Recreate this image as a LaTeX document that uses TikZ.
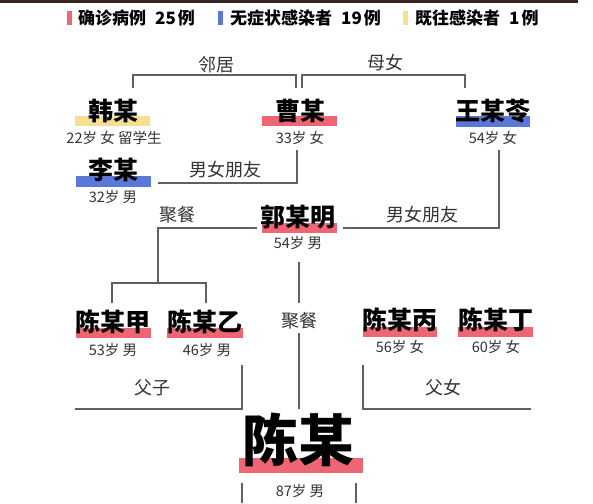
\documentclass[tikz,border=0pt]{standalone}
\usepackage{fontspec}
\setmainfont{Noto Sans CJK SC}
\definecolor{cred}{HTML}{EE6673}
\definecolor{cblue}{HTML}{5A78D8}
\definecolor{cyel}{HTML}{F6DE92}
\definecolor{lin}{HTML}{606060}
\definecolor{band}{HTML}{3B2424}
\begin{document}
\begin{tikzpicture}[x=1pt,y=-1pt,
  pname/.style={font=\fontsize{25}{25}\selectfont\bfseries, inner sep=0},
  bigname/.style={font=\fontsize{56}{56}\selectfont\bfseries, inner sep=0},
  sub/.style={font=\fontsize{14.5}{14.5}\selectfont, text=black!80, inner sep=0},
  rel/.style={font=\fontsize{18}{18}\selectfont, text=black!80, inner sep=0},
  leg/.style={font=\fontsize{17}{17}\selectfont\bfseries, anchor=west, inner sep=0},
  conn/.style={draw=lin, line width=1.2pt}]
\useasboundingbox[fill=white] (0,0) rectangle (593,503);
\fill[band] (0,0) rectangle (578,3);
% legend
\fill[cred] (67,11) rectangle (72,25);
\node[leg] (l1) at (78,18) {确诊病例\hspace{9pt}25\hspace{2pt}例};
\fill[cblue] (218,11) rectangle (223,25);
\node[leg] (l2) at (230,18) {无症状感染者\hspace{9pt}19\hspace{2pt}例};
\fill[cyel] (403,11) rectangle (408,25);
\node[leg] (l3) at (415,18) {既往感染者\hspace{9pt}1\hspace{2pt}例};
% bars
\fill[cyel] (75,116) rectangle (150,126);
\fill[cred] (262,116) rectangle (337,126);
\fill[cblue] (456,116) rectangle (530,127);
\fill[cblue] (76,176) rectangle (151,187);
\fill[cred] (262,223) rectangle (337,233);
\fill[cred] (76,328) rectangle (151,338);
\fill[cred] (167,328) rectangle (243,338);
\fill[cred] (363,327) rectangle (437,337);
\fill[cred] (458,327) rectangle (533,337);
\fill[cred] (239,458) rectangle (363,473);
% names
\node[pname] (han) at (113,111) {韩某};
\node[sub] (hans) at (114,138) {22岁 女 留学生};
\node[pname] (cao) at (300,111) {曹某};
\node[sub] (caos) at (300,138) {33岁 女};
\node[pname] (wang) at (493,111) {王某苓};
\node[sub] (wangs) at (493,138) {54岁 女};
\node[pname] (li) at (113,170) {李某};
\node[sub] (lis) at (113,197) {32岁 男};
\node[pname] (guo) at (298,217) {郭某明};
\node[sub] (guos) at (298,243) {54岁 男};
\node[pname] (cja) at (113,322) {陈某甲};
\node[sub] (cjas) at (113,350) {53岁 男};
\node[pname] (cyi) at (205,322) {陈某乙};
\node[sub] (cyis) at (207,350) {46岁 男};
\node[pname] (cbing) at (400,320) {陈某丙};
\node[sub] (cbings) at (400,347) {56岁 女};
\node[pname] (cding) at (496,320) {陈某丁};
\node[sub] (cdings) at (496,347) {60岁 女};
\node[bigname] (chen) at (298,440) {陈某};
\node[sub] (chens) at (300,491) {87岁 男};
% relation labels
\node[rel] (rlin) at (216,65) {邻居};
\node[rel] (rmu) at (385,63) {母女};
\node[rel] (rnp1) at (225,170) {男女朋友};
\node[rel] (rjc1) at (177,215) {聚餐};
\node[rel] (rnp2) at (422,215) {男女朋友};
\node[rel] (rjc2) at (299,321) {聚餐};
\node[rel] (rfz) at (152,388) {父子};
\node[rel] (rfn) at (443,388) {父女};
% connector points
\coordinate (hanT) at (133,88);
\coordinate (caoT1) at (296,88);
\coordinate (caoT2) at (302,88);
\coordinate (wangT) at (465,88);
\coordinate (caoB) at (297,150);
\coordinate (liR) at (158,183);
\coordinate (guoL) at (257,228);
\coordinate (guoR) at (343,228);
\coordinate (wangB) at (499,150);
\coordinate (fork) at (158,283);
\coordinate (cjaT) at (112,303);
\coordinate (cyiT) at (206,303);
\coordinate (guoB) at (299,262);
\coordinate (fzT) at (242,365);
\coordinate (fzL) at (75,409);
\coordinate (fnT) at (363,365);
\coordinate (fnR) at (531,409);
\coordinate (chenT) at (299,409);
\coordinate (b1) at (242,483);
\coordinate (b2) at (356,483);
% connectors
\draw[conn] (hanT) -- (hanT |- 0,75) -- (caoT1 |- 0,75) -- (caoT1);
\draw[conn] (caoT2) -- (caoT2 |- 0,75) -- (wangT |- 0,75) -- (wangT);
\draw[conn] (liR) -| (caoB);
\draw[conn] (guoL) -| (fork);
\draw[conn] (cjaT) |- (fork) -| (cyiT);
\draw[conn] (guoR) -| (wangB);
\draw[conn] (guoB) -- (rjc2.north |- 0,303);
\draw[conn] (rjc2.south |- 0,333) -- (chenT);
\draw[conn] (fzT) |- (fzL);
\draw[conn] (fnT) |- (fnR);
\draw[conn] (b1) -- (b1 |- 0,503);
\draw[conn] (b2) -- (b2 |- 0,503);
\end{tikzpicture}
\end{document}
